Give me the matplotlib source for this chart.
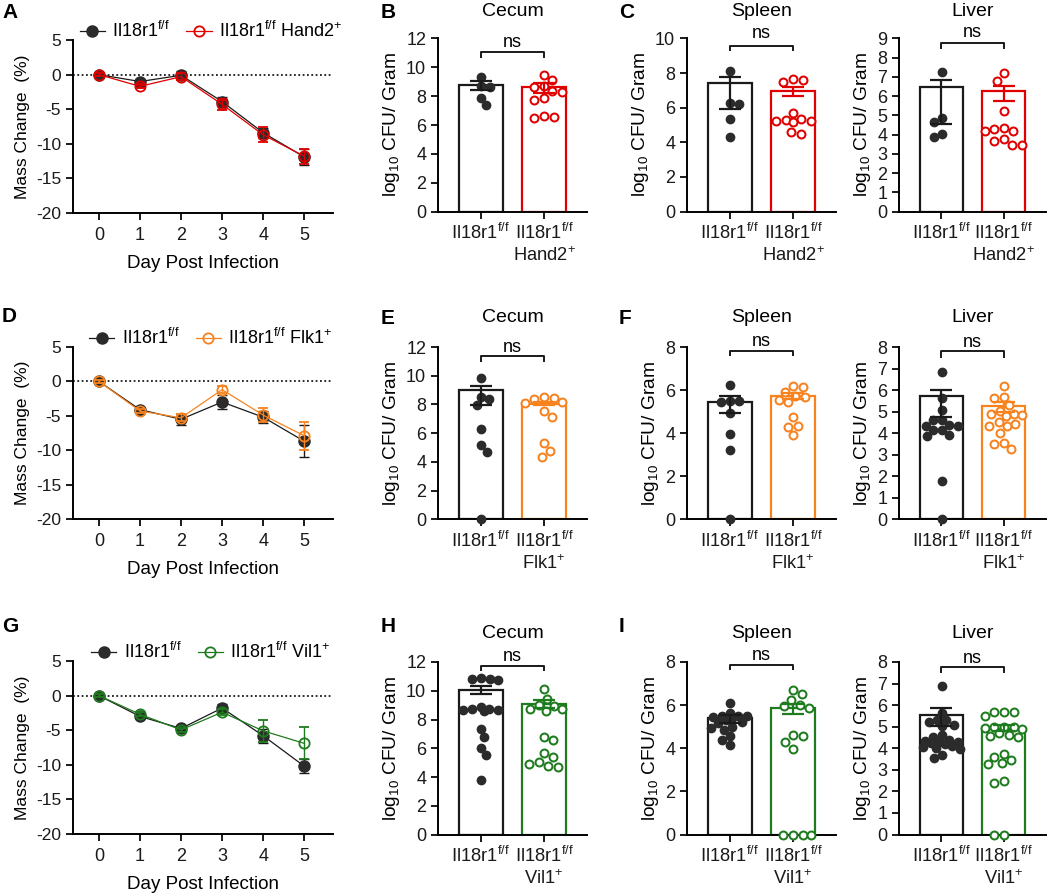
import numpy as np
import matplotlib
matplotlib.use('Agg')
import matplotlib.pyplot as plt
from matplotlib.lines import Line2D

plt.rcParams.update({
    'font.family': ['Liberation Sans', 'DejaVu Sans'],
    'mathtext.fontset': 'custom',
    'mathtext.rm': 'Liberation Sans',
    'mathtext.it': 'Liberation Sans:italic',
    'mathtext.bf': 'Liberation Sans:bold',
    'mathtext.default': 'regular',
    'axes.unicode_minus': False,
    'font.size': 12.5,
    'axes.linewidth': 1.4,
    'xtick.major.width': 1.4,
    'ytick.major.width': 1.4,
    'xtick.major.size': 5,
    'ytick.major.size': 5,
    'xtick.major.pad': 3.5,
    'ytick.major.pad': 3.5,
})

# ---------------- data ----------------
days = [0, 1, 2, 3, 4, 5]

A_ctrl_mean = [0, -1.0, -0.1, -3.9, -8.4, -11.9]
A_ctrl_sem = [0.2, 0.3, 0.6, 0.6, 0.7, 1.1]
A_hand2_mean = [0, -1.7, -0.3, -4.3, -8.7, -11.8]
A_hand2_sem = [0.2, 0.3, 0.5, 0.8, 1.1, 1.1]

D_ctrl_mean = [0, -4.1, -5.5, -3.0, -5.2, -8.7]
D_ctrl_sem = [0.2, 0.3, 0.8, 1.0, 0.9, 2.3]
D_flk1_mean = [0, -4.3, -5.3, -1.2, -4.9, -7.9]
D_flk1_sem = [0.2, 0.3, 0.5, 0.5, 1.0, 2.0]

G_ctrl_mean = [0, -3.0, -4.75, -1.8, -5.8, -10.2]
G_ctrl_sem = [0.2, 0.3, 0.4, 0.6, 1.0, 1.0]
G_vil1_mean = [0, -2.7, -4.95, -2.4, -5.1, -6.9]
G_vil1_sem = [0.2, 0.3, 0.3, 0.4, 1.6, 2.3]

# Cecum / Spleen / Liver CFU (log10 per gram)
B_ctrl = [9.35, 8.7, 8.65, 7.9, 7.4]
B_ko = [9.45, 9.1, 8.7, 8.65, 8.35, 8.3, 7.85, 7.75, 6.5, 6.55, 6.6]
B_mean = [8.75, 8.64]
B_err_lo = [0.35, 0.4]
B_err_hi = [0.3, 0.3]

C_spleen_ctrl = [8.1, 6.25, 6.2, 5.35, 4.3]
C_spleen_ko = [7.65, 7.6, 7.5, 5.7, 5.35, 5.3, 5.25, 5.25, 5.15, 4.6, 4.5]
C_spleen_mean = [7.42, 6.97]
C_spleen_err_lo = [1.47, 0.28]
C_spleen_err_hi = [0.33, 0.2]

C_liver_ctrl = [7.25, 4.85, 4.65, 4.05, 3.85]
C_liver_ko = [7.2, 6.8, 5.25, 4.35, 4.3, 4.2, 4.2, 3.75, 3.65, 3.45, 3.45]
C_liver_mean = [6.49, 6.27]
C_liver_err_lo = [1.93, 0.52]
C_liver_err_hi = [0.35, 0.26]

E_ctrl = [9.85, 8.5, 8.35, 7.95, 6.3, 5.15, 4.7, 0.0]
E_ko = [8.5, 8.45, 8.4, 8.15, 8.1, 7.55, 7.15, 5.3, 4.75, 4.35]
E_mean = [8.99, 8.06]
E_err_lo = [1.04, 0.11]
E_err_hi = [0.3, 0.12]

F_spleen_ctrl = [6.25, 5.5, 5.5, 5.45, 4.95, 3.95, 3.2, 0.0]
F_spleen_ko = [6.2, 6.15, 5.9, 5.75, 5.7, 5.55, 5.45, 4.75, 4.35, 4.3, 3.9]
F_spleen_mean = [5.44, 5.75]
F_spleen_err_lo = [0.51, 0.15]
F_spleen_err_hi = [0.27, 0.1]

F_liver_ctrl = [6.85, 5.65, 5.1, 4.6, 4.6, 4.4, 4.35, 4.35, 4.15, 4.15, 3.9, 3.85, 1.8, 0.0]
F_liver_ko = [6.2, 5.7, 5.65, 5.3, 5.05, 4.9, 4.9, 4.85, 4.8, 4.5, 4.45, 4.35, 4.35, 4.0, 3.55, 3.5, 3.25]
F_liver_mean = [5.75, 5.25]
F_liver_err_lo = [0.99, 0.25]
F_liver_err_hi = [0.27, 0.2]

H_ctrl = [10.9, 10.85, 10.8, 10.75, 8.9, 8.75, 8.7, 8.65, 8.65, 8.6, 7.35, 6.8, 6.0, 5.5, 3.8]
H_ko = [10.1, 9.45, 9.0, 8.95, 8.75, 8.75, 8.6, 6.8, 6.55, 5.65, 5.4, 5.05, 4.9, 4.75, 4.7]
H_mean = [10.08, 9.1]
H_err_lo = [0.33, 0.27]
H_err_hi = [0.23, 0.23]

I_spleen_ctrl = [6.1, 5.65, 5.5, 5.5, 5.5, 5.45, 5.4, 5.3, 5.2, 5.15, 5.0, 4.95, 4.85, 4.55, 4.4, 4.15]
I_spleen_ko = [6.7, 6.5, 6.25, 6.0, 5.95, 5.85, 4.6, 4.55, 4.3, 3.95, 0.0, 0.0, 0.0, 0.0]
I_spleen_mean = [5.4, 5.86]
I_spleen_err_lo = [0.24, 0.25]
I_spleen_err_hi = [0.15, 0.2]

I_liver_ctrl = [6.9, 5.65, 5.3, 5.3, 5.2, 5.1, 5.05, 4.6, 4.5, 4.4, 4.35, 4.3, 4.3, 4.25, 4.2,
                4.1, 4.05, 4.0, 3.95, 3.7, 3.55]
I_liver_ko = [5.7, 5.7, 5.7, 5.5, 5.0, 5.0, 5.0, 4.95, 4.9, 4.7, 4.6, 4.55, 4.5, 3.75, 3.6,
              3.45, 3.3, 3.25, 2.5, 2.4, 0.0, 0.0]
I_liver_mean = [5.56, 4.91]
I_liver_err_lo = [0.54, 0.11]
I_liver_err_hi = [0.31, 0.16]

ctrl_label = r'Il18r1$^{f/f}$'
hand2_label = r'Il18r1$^{f/f}$ Hand2$^{+}$'
flk1_label = r'Il18r1$^{f/f}$ Flk1$^{+}$'
vil1_label = r'Il18r1$^{f/f}$ Vil1$^{+}$'
hand2_tick = 'Il18r1$^{f/f}$\nHand2$^{+}$'
flk1_tick = 'Il18r1$^{f/f}$\nFlk1$^{+}$'
vil1_tick = 'Il18r1$^{f/f}$\nVil1$^{+}$'

# ---------------- style ----------------
BLACK = '#1a1a1a'
DOT = '#2b2b2b'
RED = '#E00000'
ORANGE = '#F7821E'
GREEN = '#1E7B1E'

W, H = 1050, 896
fig = plt.figure(figsize=(W / 100, H / 100), dpi=100)


def add_ax(l, r, t, b):
    return fig.add_axes([l / W, 1 - b / H, (r - l) / W, (b - t) / H])


def ftext(x, y, s, **kw):
    fig.text(x / W, 1 - y / H, s, **kw)


XL_BAR = (-0.68, 1.68)
XL_LINE = (-0.63, 5.7)


def swarm_offsets(yp, d, maxw):
    """Place points (pixel y) as close to centre as possible without overlap,
    staying within +/- maxw pixels; if impossible, minimise overlap."""
    placed = []
    out = []
    grid = np.arange(-maxw, maxw + 0.01, 0.5)
    order = np.argsort(-np.asarray(yp), kind='stable')
    res = np.zeros(len(yp))
    for k in order:
        y = yp[k]
        if placed:
            P = np.array(placed)
            dist = np.sqrt((grid[:, None] - P[None, :, 0]) ** 2 + (y - P[None, :, 1]) ** 2)
            mind = dist.min(axis=1)
        else:
            mind = np.full(grid.shape, np.inf)
        ok = mind >= d - 1e-6
        if ok.any():
            cand = grid[ok]
            c = cand[np.argmin(np.abs(cand) + 1e-3 * cand)]
        else:
            c = grid[np.argmax(mind - 1e-3 * np.abs(grid))]
        placed.append((c, y))
        res[k] = c
    return res


def style_axes(ax):
    for s in ['top', 'right']:
        ax.spines[s].set_visible(False)
    ax.tick_params(direction='out', colors=BLACK)


def line_panel(ax, ctrl, ctrl_sem, ko, ko_sem, color, ko_label):
    style_axes(ax)
    ax.axhline(0, color=BLACK, lw=1.3, ls=(0, (1, 1.4)), zorder=1)
    ax.errorbar(days, ctrl, yerr=ctrl_sem, color=BLACK, marker='o', ms=8.0,
                mfc=DOT, mec=DOT, lw=0.9, capsize=3.5, elinewidth=1.0,
                capthick=1.0, zorder=3)
    ax.errorbar(days, ko, yerr=ko_sem, color=color, marker='o', ms=7.4,
                mfc='none', mec=color, mew=1.3, lw=0.9, capsize=3.5,
                elinewidth=1.0, capthick=1.0, zorder=4)
    ax.set_xlim(*XL_LINE)
    ax.set_ylim(-20, 5)
    ax.set_yticks([-20, -15, -10, -5, 0, 5])
    ax.set_xticks(days)
    ax.tick_params(axis='x', labelsize=13, pad=5)
    ax.tick_params(axis='y', labelsize=12.5)
    ax.set_ylabel('Mass Change  (%)', fontsize=12.5)
    ax.set_xlabel('Day Post Infection', fontsize=13.5, labelpad=8)
    h1 = Line2D([], [], color=BLACK, marker='o', ms=8.0, mfc=DOT, mec=DOT, lw=0.9)
    h2 = Line2D([], [], color=color, marker='o', ms=7.4, mfc='none', mec=color, mew=1.3, lw=0.9)
    ax.legend([h1, h2], [ctrl_label, ko_label], ncol=2, loc='center',
              bbox_to_anchor=(0.53, 1.052), frameon=False, handlelength=1.4,
              handletextpad=0.4, columnspacing=0.9, fontsize=13, borderaxespad=0,
              borderpad=0)


def bar_panel(ax, ctrl, ko, means, err_lo, err_hi, color, ymax, ystep, ko_tick, br):
    style_axes(ax)
    ax.set_xlim(*XL_BAR)
    ax.set_ylim(0, ymax)
    cols = [BLACK, color]
    ax.bar([0, 1], means, width=0.7, color='white', edgecolor=cols, linewidth=1.6, zorder=1)
    fig.canvas.draw()
    bb = ax.get_window_extent()
    ppx = bb.width / (XL_BAR[1] - XL_BAR[0])
    ppy = bb.height / ymax
    maxw = 0.35 * ppx - 3.5
    for i, vals in enumerate([ctrl, ko]):
        yp = np.array(vals) * ppy
        if i == 0:
            offs = swarm_offsets(yp, 8.6, maxw)
            ax.plot(i + offs / ppx, vals, 'o', ms=6.0, mfc=DOT, mec=DOT, ls='none',
                    zorder=3, clip_on=False)
        else:
            offs = swarm_offsets(yp, 9.8, maxw)
            ax.plot(i + offs / ppx, vals, 'o', ms=5.7, mfc='white', mec=color, mew=1.45,
                    ls='none', zorder=3, clip_on=False)
    for i in range(2):
        ax.errorbar(i, means[i], yerr=[[err_lo[i]], [err_hi[i]]], color=cols[i],
                    capsize=8, elinewidth=1.6, capthick=1.6, zorder=4)
    ax.set_yticks(np.arange(0, ymax + 0.01, ystep))
    ax.set_xticks([0, 1])
    ax.set_xticklabels([ctrl_label, ko_tick], fontsize=13.2)
    ax.tick_params(axis='y', labelsize=13)
    ax.set_ylabel(r'log$_{10}$ CFU/ Gram', fontsize=13.8, labelpad=3)
    yb, yt, yns = br
    tr = ax.get_xaxis_transform()
    ax.plot([0, 0, 1, 1], [yt, yb, yb, yt], color=BLACK, lw=1.4, transform=tr,
            clip_on=False, solid_capstyle='butt')
    ax.text(0.5, yns, 'ns', transform=tr, ha='center', va='center', fontsize=13)


# ---------------- layout (pixels) ----------------
LINE_X = (73, 333)
COL_B = (438, 587)
COL_S = (687, 836)
COL_L = (899, 1046)
ROWS_LINE = [(40, 213), (347, 519), (661, 834)]
ROWS_BAR = [(38.5, 211.5), (347, 519.5), (662, 834.5)]

# Line charts
axA = add_ax(LINE_X[0], LINE_X[1], *ROWS_LINE[0])
line_panel(axA, A_ctrl_mean, A_ctrl_sem, A_hand2_mean, A_hand2_sem, RED, hand2_label)
axD = add_ax(LINE_X[0], LINE_X[1], *ROWS_LINE[1])
line_panel(axD, D_ctrl_mean, D_ctrl_sem, D_flk1_mean, D_flk1_sem, ORANGE, flk1_label)
axG = add_ax(LINE_X[0], LINE_X[1], *ROWS_LINE[2])
line_panel(axG, G_ctrl_mean, G_ctrl_sem, G_vil1_mean, G_vil1_sem, GREEN, vil1_label)

# Bar charts
axB = add_ax(COL_B[0], COL_B[1], *ROWS_BAR[0])
bar_panel(axB, B_ctrl, B_ko, B_mean, B_err_lo, B_err_hi, RED, 12, 2, hand2_tick, (0.921, 0.888, 0.975))
axCs = add_ax(COL_S[0], COL_S[1], *ROWS_BAR[0])
bar_panel(axCs, C_spleen_ctrl, C_spleen_ko, C_spleen_mean, C_spleen_err_lo, C_spleen_err_hi,
          RED, 10, 2, hand2_tick, (0.954, 0.925, 1.03))
axCl = add_ax(COL_L[0], COL_L[1], *ROWS_BAR[0])
bar_panel(axCl, C_liver_ctrl, C_liver_ko, C_liver_mean, C_liver_err_lo, C_liver_err_hi,
          RED, 9, 1, hand2_tick, (0.975, 0.94, 1.035))

axE = add_ax(COL_B[0], COL_B[1], *ROWS_BAR[1])
bar_panel(axE, E_ctrl, E_ko, E_mean, E_err_lo, E_err_hi, ORANGE, 12, 2, flk1_tick, (0.946, 0.915, 1.0))
axFs = add_ax(COL_S[0], COL_S[1], *ROWS_BAR[1])
bar_panel(axFs, F_spleen_ctrl, F_spleen_ko, F_spleen_mean, F_spleen_err_lo, F_spleen_err_hi,
          ORANGE, 8, 2, flk1_tick, (0.978, 0.95, 1.033))
axFl = add_ax(COL_L[0], COL_L[1], *ROWS_BAR[1])
bar_panel(axFl, F_liver_ctrl, F_liver_ko, F_liver_mean, F_liver_err_lo, F_liver_err_hi,
          ORANGE, 8, 1, flk1_tick, (0.975, 0.936, 1.027))

axH = add_ax(COL_B[0], COL_B[1], *ROWS_BAR[2])
bar_panel(axH, H_ctrl, H_ko, H_mean, H_err_lo, H_err_hi, GREEN, 12, 2, vil1_tick, (0.975, 0.946, 1.033))
axIs = add_ax(COL_S[0], COL_S[1], *ROWS_BAR[2])
bar_panel(axIs, I_spleen_ctrl, I_spleen_ko, I_spleen_mean, I_spleen_err_lo, I_spleen_err_hi,
          GREEN, 8, 2, vil1_tick, (0.984, 0.955, 1.04))
axIl = add_ax(COL_L[0], COL_L[1], *ROWS_BAR[2])
bar_panel(axIl, I_liver_ctrl, I_liver_ko, I_liver_mean, I_liver_err_lo, I_liver_err_hi,
          GREEN, 8, 1, vil1_tick, (0.969, 0.936, 1.023))

# Titles
title_y = [11, 318, 633]
for ty in title_y:
    ftext((COL_B[0] + COL_B[1]) / 2, ty, 'Cecum', ha='center', va='center', fontsize=14)
    ftext((COL_S[0] + COL_S[1]) / 2, ty, 'Spleen', ha='center', va='center', fontsize=14)
    ftext((COL_L[0] + COL_L[1]) / 2, ty, 'Liver', ha='center', va='center', fontsize=14)

# Panel letters
letters = [('A', 2, 12), ('B', 381, 12), ('C', 619, 12),
           ('D', 2, 317), ('E', 381, 318), ('F', 619, 318),
           ('G', 2, 627), ('H', 381, 627), ('I', 619, 627)]
for s, x, y in letters:
    ftext(x, y, s, ha='left', va='center', fontsize=15, fontweight='bold')

fig.savefig('out.png', dpi=100, facecolor='white')
